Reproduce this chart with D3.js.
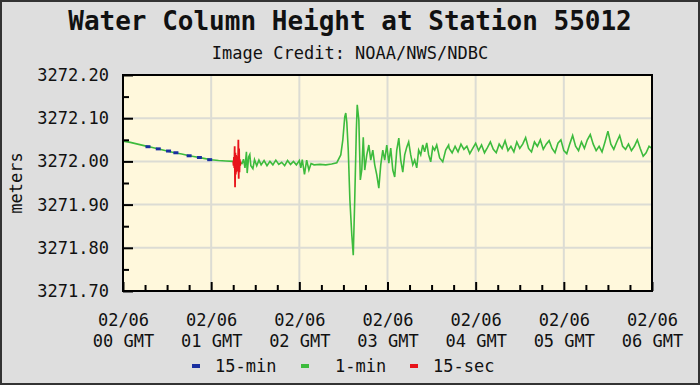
<!DOCTYPE html>
<html lang="en">
<head>
<meta charset="UTF-8">
<title>Water Column Height at Station 55012</title>
<script src="https://d3js.org/d3.v7.min.js"></script>
<style>
    body { margin: 0; background: #dedede; }
    svg { display: block; }
    text { font-family: 'DejaVu Sans Mono', 'Liberation Mono', monospace; fill: #111; }
    .title { font-size: 26px; font-weight: bold; }
    .sub, .tick-label, .legend-text, .ylabel { font-size: 17px; }
</style>
</head>
<body>
<div id="chart"></div>
<script>
// hours shown on the x axis (minutes from 02/06 00 GMT)
const hourTicks = [0, 60, 120, 180, 240, 300, 360];
const hourDates = ["02/06", "02/06", "02/06", "02/06", "02/06", "02/06", "02/06"];
const hourLabels = ["00 GMT", "01 GMT", "02 GMT", "03 GMT", "04 GMT", "05 GMT", "06 GMT"];
const yTicks = [3271.70, 3271.80, 3271.90, 3272.00, 3272.10, 3272.20];

// 15-min samples [minute, metres]
const series15min = [
    [17, 3272.034], [24, 3272.029], [31, 3272.024], [36, 3272.020],
    [45, 3272.013], [52, 3272.009], [59, 3272.004]
];

// 1-min samples [minute, metres]
const series1min = [
    [0, 3272.047], [5, 3272.044], [10, 3272.040], [15, 3272.036], [20, 3272.032],
    [25, 3272.028], [30, 3272.024], [35, 3272.020], [40, 3272.017], [45, 3272.013],
    [50, 3272.010], [55, 3272.007], [60, 3272.004], [65, 3272.002], [70, 3272.001],
    [75, 3272.000], [81, 3271.995], [82, 3272.005], [83, 3271.985], [84, 3272.022],
    [84.5, 3271.973], [85.5, 3272.010], [86.3, 3272.016], [87, 3271.990], [88.4, 3271.983],
    [89.5, 3272.004], [91, 3271.990], [92.5, 3272.003], [94, 3271.992], [96, 3272.002],
    [98, 3271.990], [100, 3272.000], [102, 3271.992], [104, 3272.003], [106, 3271.993],
    [108, 3271.998], [110, 3271.990], [112, 3272.002], [114, 3271.993], [116, 3272.000],
    [118, 3271.992], [120, 3272.002], [121, 3271.985], [122, 3272.004], [123.5, 3271.970],
    [125, 3272.003], [126.5, 3271.980], [128, 3271.995], [130, 3271.992], [134, 3271.993],
    [138, 3271.992], [142, 3271.994], [145.5, 3271.997], [148.2, 3272.015], [149.6, 3272.050],
    [150.9, 3272.103], [151.6, 3272.112], [152.3, 3272.091], [153.3, 3272.026], [154.4, 3271.911],
    [155.7, 3271.830], [156.7, 3271.783], [157.7, 3271.911], [158.8, 3272.073], [159.4, 3272.131],
    [160.5, 3272.096], [161.5, 3271.957], [162.5, 3271.980], [163.5, 3272.056], [164.5, 3271.980],
    [165.9, 3272.015], [167.3, 3272.038], [168.6, 3272.003], [170.0, 3272.026], [171.3, 3271.992],
    [172.7, 3271.969], [174.1, 3271.938], [175.4, 3271.992], [176.8, 3272.026], [178.1, 3272.003],
    [179.5, 3272.038], [180.9, 3271.996], [182.2, 3272.031], [183.6, 3271.980], [184.9, 3271.964],
    [186.3, 3272.026], [187.7, 3272.054], [189.0, 3272.003], [190.4, 3271.975], [191.7, 3272.015],
    [193.1, 3272.033], [194.4, 3272.045], [195.8, 3272.015], [197.2, 3271.992], [198.5, 3272.003],
    [199.9, 3271.985], [201.2, 3272.026], [202.6, 3272.015], [204.0, 3272.038], [205.3, 3272.022],
    [206.7, 3272.043], [208.0, 3272.015], [209.4, 3271.999], [210.8, 3272.033], [212.1, 3272.026],
    [213.5, 3272.038], [215.5, 3272.008], [217.6, 3271.999], [219.6, 3272.026], [221.6, 3272.038],
    [222, 3272.030], [224, 3272.020], [226, 3272.035], [228, 3272.022], [230, 3272.040],
    [232, 3272.028], [234, 3272.035], [236, 3272.018], [238, 3272.030], [240, 3272.042],
    [242, 3272.025], [244, 3272.038], [246, 3272.020], [248, 3272.032], [250, 3272.045],
    [252, 3272.028], [254, 3272.020], [256, 3272.040], [258, 3272.030], [260, 3272.048],
    [262, 3272.025], [264, 3272.035], [266, 3272.022], [268, 3272.045], [270, 3272.030],
    [272, 3272.040], [274, 3272.055], [276, 3272.030], [278, 3272.022], [280, 3272.045],
    [282, 3272.035], [284, 3272.050], [286, 3272.028], [288, 3272.040], [290, 3272.048],
    [292, 3272.030], [294, 3272.020], [296, 3272.042], [298, 3272.050], [300, 3272.025],
    [302, 3272.018], [304, 3272.040], [306, 3272.060], [308, 3272.035], [310, 3272.025],
    [312, 3272.045], [314, 3272.030], [316, 3272.050], [318, 3272.062], [320, 3272.040],
    [322, 3272.025], [324, 3272.035], [326, 3272.022], [328, 3272.045], [330, 3272.070],
    [332, 3272.040], [334, 3272.028], [336, 3272.045], [338, 3272.060], [340, 3272.035],
    [342, 3272.028], [344, 3272.040], [346, 3272.025], [348, 3272.035], [350, 3272.050],
    [352, 3272.030], [354, 3272.012], [356, 3272.020], [358, 3272.035], [360, 3272.030]
];

// 15-sec samples [minute, metres]
const series15sec = [
    [75.0, 3272.000], [75.25, 3271.990], [75.5, 3272.010], [75.75, 3271.985], [76.0, 3272.035],
    [76.25, 3271.940], [76.5, 3272.020], [76.75, 3271.970], [77.0, 3272.015], [77.25, 3271.975],
    [77.5, 3272.010], [77.75, 3271.980], [78.0, 3272.012], [78.25, 3271.978], [78.5, 3272.050],
    [78.75, 3271.960], [79.0, 3272.030], [79.25, 3271.975], [79.5, 3272.005], [79.75, 3271.990],
    [80.0, 3272.000]
];

const legendItems = [
    { label: "15-min", color: "#1a2fa0" },
    { label: "1-min", color: "#3dbb3d" },
    { label: "15-sec", color: "#e8141b" }
];

const width = 700, height = 385;
const plot = { left: 123, right: 652, top: 75, bottom: 291 };

const svg = d3.select("#chart").append("svg")
    .attr("width", width)
    .attr("height", height);

// outer frame
svg.append("rect")
    .attr("x", 1).attr("y", 1)
    .attr("width", width - 2).attr("height", height - 2)
    .attr("fill", "#dedede")
    .attr("stroke", "#333").attr("stroke-width", 2);

svg.append("text").attr("class", "title")
    .attr("x", 350).attr("y", 30)
    .attr("text-anchor", "middle")
    .text("Water Column Height at Station 55012");

svg.append("text").attr("class", "sub")
    .attr("x", 350).attr("y", 59)
    .attr("text-anchor", "middle")
    .text("Image Credit: NOAA/NWS/NDBC");

const x = d3.scaleLinear().domain([0, 360]).range([plot.left, plot.right]);
const y = d3.scaleLinear().domain([3271.70, 3272.20]).range([plot.bottom, plot.top]);

svg.append("rect")
    .attr("x", plot.left).attr("y", plot.top)
    .attr("width", plot.right - plot.left).attr("height", plot.bottom - plot.top)
    .attr("fill", "#fff8dc");

// grid
svg.append("g").selectAll("line")
    .data(hourTicks.slice(1, -1))
    .join("line")
    .attr("x1", d => x(d)).attr("x2", d => x(d))
    .attr("y1", plot.top).attr("y2", plot.bottom)
    .attr("stroke", "#dcdcd4").attr("stroke-width", 2);

svg.append("g").selectAll("line")
    .data(yTicks.slice(1, -1))
    .join("line")
    .attr("x1", plot.left).attr("x2", plot.right)
    .attr("y1", d => y(d)).attr("y2", d => y(d))
    .attr("stroke", "#dcdcd4").attr("stroke-width", 2);

svg.append("clipPath").attr("id", "clip")
    .append("rect")
    .attr("x", plot.left).attr("y", plot.top)
    .attr("width", plot.right - plot.left).attr("height", plot.bottom - plot.top);

const line = d3.line().x(d => x(d[0])).y(d => y(d[1]));
const data = svg.append("g").attr("clip-path", "url(#clip)");

data.append("path")
    .datum(series1min)
    .attr("d", line)
    .attr("fill", "none")
    .attr("stroke", legendItems[1].color)
    .attr("stroke-width", 1.6);

data.selectAll(".b15")
    .data(series15min)
    .join("rect")
    .attr("x", d => x(d[0]) - 2.5).attr("y", d => y(d[1]) - 1.5)
    .attr("width", 5).attr("height", 3)
    .attr("fill", legendItems[0].color);

data.append("path")
    .datum(series15sec)
    .attr("d", line)
    .attr("fill", "none")
    .attr("stroke", legendItems[2].color)
    .attr("stroke-width", 1.8);

// y axis, ticks inward
const minorY = d3.range(3271.75, 3272.20, 0.1);
svg.append("g")
    .attr("transform", `translate(${plot.left},0)`)
    .call(d3.axisLeft(y).tickValues(minorY).tickSizeInner(-6).tickSizeOuter(0).tickFormat(""))
    .call(g => g.select(".domain").remove());

svg.append("g")
    .attr("transform", `translate(${plot.left},0)`)
    .call(d3.axisLeft(y).tickValues(yTicks).tickSizeInner(-10).tickSizeOuter(0)
        .tickPadding(14).tickFormat(d3.format(".2f")))
    .call(g => g.select(".domain").remove())
    .call(g => g.selectAll("text").attr("class", "tick-label").attr("font-size", null).attr("font-family", null));

// x axis
const minorX = d3.range(15, 360, 15).filter(m => m % 60 !== 0);
svg.append("g")
    .attr("transform", `translate(0,${plot.bottom})`)
    .call(d3.axisBottom(x).tickValues(minorX).tickSizeInner(-6).tickSizeOuter(0).tickFormat(""))
    .call(g => g.select(".domain").remove());

const xAxis = svg.append("g")
    .attr("transform", `translate(0,${plot.bottom})`)
    .call(d3.axisBottom(x).tickValues(hourTicks).tickSizeInner(-9).tickSizeOuter(0).tickFormat(""))
    .call(g => g.select(".domain").remove());

xAxis.selectAll(".tick text").remove();
xAxis.selectAll(".tick").each(function(d, i) {
    const t = d3.select(this).append("text")
        .attr("class", "tick-label")
        .attr("text-anchor", "middle")
        .attr("y", 35);
    t.append("tspan").attr("x", 0).text(hourDates[i]);
    t.append("tspan").attr("x", 0).attr("dy", 21).text(hourLabels[i]);
});

svg.selectAll(".tick line").attr("stroke", "#000").attr("stroke-width", 2);

// plot frame
svg.append("rect")
    .attr("x", plot.left).attr("y", plot.top)
    .attr("width", plot.right - plot.left).attr("height", plot.bottom - plot.top)
    .attr("fill", "none")
    .attr("stroke", "#000").attr("stroke-width", 2);

svg.append("text").attr("class", "ylabel")
    .attr("transform", "translate(22,183) rotate(-90)")
    .attr("text-anchor", "middle")
    .text("meters");

// legend
const legendX = [192, 301, 410];
const lg = svg.append("g").selectAll("g")
    .data(legendItems)
    .join("g")
    .attr("transform", (d, i) => `translate(${legendX[i]},366)`);

lg.append("rect")
    .attr("x", 0).attr("y", -2)
    .attr("width", 8).attr("height", 4)
    .attr("fill", d => d.color);

lg.append("text").attr("class", "legend-text")
    .attr("x", (d, i) => i === 1 ? 34 : 23)
    .attr("y", 6)
    .text(d => d.label);
</script>
</body>
</html>
